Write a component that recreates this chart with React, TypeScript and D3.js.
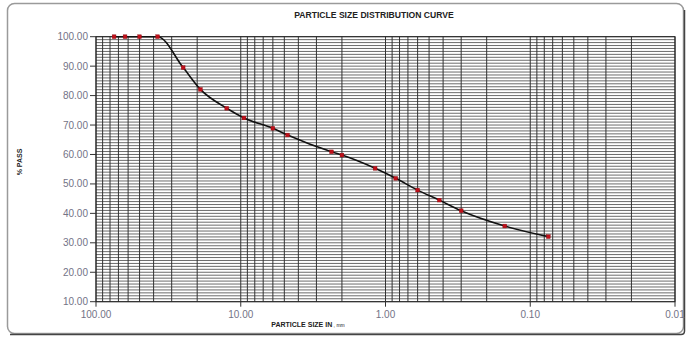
import React from "react";
import * as d3 from "d3";

const sizes = [75, 63, 50, 37.5, 25, 19, 12.5, 9.5, 6.0, 4.75, 2.36, 2.0, 1.18, 0.85, 0.6, 0.425, 0.3, 0.15, 0.075];
const passing = [100, 100, 100, 100, 89.5, 82.1, 75.7, 72.4, 68.9, 66.6, 60.9, 59.8, 55.3, 51.9, 47.9, 44.5, 40.9, 35.7, 32.1];
const xTicks = [100, 10, 1, 0.1, 0.01];
const yTicks = [10, 20, 30, 40, 50, 60, 70, 80, 90, 100];
const title = "PARTICLE SIZE DISTRIBUTION CURVE";
const xTitleMain = "PARTICLE SIZE IN";
const xTitleUnit = " , mm";
const yTitle = "% PASS";

export default function App() {
  const W = 688, H = 337;
  const left = 96, right = 675, top = 36.7, bottom = 301.7;
  const x = d3.scaleLog().domain([100, 0.01]).range([left, right]);
  const y = d3.scaleLinear().domain([10, 100]).range([bottom, top]);

  const minor: number[] = [];
  for (let e = -2; e < 2; e++) {
    for (let k = 1; k < 10; k++) minor.push(k * Math.pow(10, e));
  }
  minor.push(100);
  const hLines = d3.range(10, 101, 1);

  const pts = sizes.map((s, i) => [x(s), y(passing[i])] as [number, number]);
  const line = d3.line().curve(d3.curveMonotoneX)(pts.slice().sort((a, b) => a[0] - b[0]));

  const fmt = d3.format(".2f");
  const labelColor = "#737386";

  return (
    <svg width={W} height={H} style={{ position: "fixed", left: 0, top: 0, background: "#fff" }}
      fontFamily="Liberation Sans, Arial, sans-serif">
      <rect x={7.5} y={3.5} width={676} height={330} rx={7} fill="#fff" stroke="#9a9a9a" strokeWidth={1.5} />
      <path d="M 10 334.5 L 681 334.5 Q 684.5 334.5 684.5 331 L 684.5 10" fill="none" stroke="#444" strokeWidth={1.5} />
      <text x={374} y={18} textAnchor="middle" fontSize={8.6} fontWeight="bold" fill="#222">{title}</text>

      {hLines.map((v) => (
        <line key={"h" + v} x1={left} x2={right} y1={y(v)} y2={y(v)} stroke="#5a5a5a" strokeWidth={0.9} />
      ))}
      {minor.map((v, i) => (
        <line key={"v" + i} x1={x(v)} x2={x(v)} y1={top} y2={bottom} stroke="#333" strokeWidth={1} />
      ))}
      <rect x={left} y={top} width={right - left} height={bottom - top} fill="none" stroke="#222" strokeWidth={1} />

      {yTicks.map((v) => (
        <g key={"yt" + v}>
          <line x1={left - 6} x2={left} y1={y(v)} y2={y(v)} stroke="#333" strokeWidth={1} />
          <text x={left - 8} y={y(v) + 3.5} textAnchor="end" fontSize={10} fill={labelColor}>{fmt(v)}</text>
        </g>
      ))}
      {xTicks.map((v) => (
        <g key={"xt" + v}>
          <line x1={x(v)} x2={x(v)} y1={bottom} y2={bottom + 5} stroke="#333" strokeWidth={1} />
          <text x={x(v)} y={317.5} textAnchor="middle" fontSize={10} fill={labelColor}>{fmt(v)}</text>
        </g>
      ))}

      <text x={308} y={327} textAnchor="middle" fontSize={7} fontWeight="bold" fill="#222">
        {xTitleMain}
        <tspan fontSize={5} fontWeight="normal">{xTitleUnit}</tspan>
      </text>
      <text transform={`translate(22,162) rotate(-90)`} textAnchor="middle" fontSize={7} fontWeight="bold" fill="#222">{yTitle}</text>

      <path d={line ?? ""} fill="none" stroke="#111" strokeWidth={1.6} />
      {pts.map((p, i) => (
        <rect key={"p" + i} x={p[0] - 1.9} y={p[1] - 1.9} width={3.8} height={3.8} fill="#c0101a" stroke="#8a0a10" strokeWidth={0.4} />
      ))}
    </svg>
  );
}
